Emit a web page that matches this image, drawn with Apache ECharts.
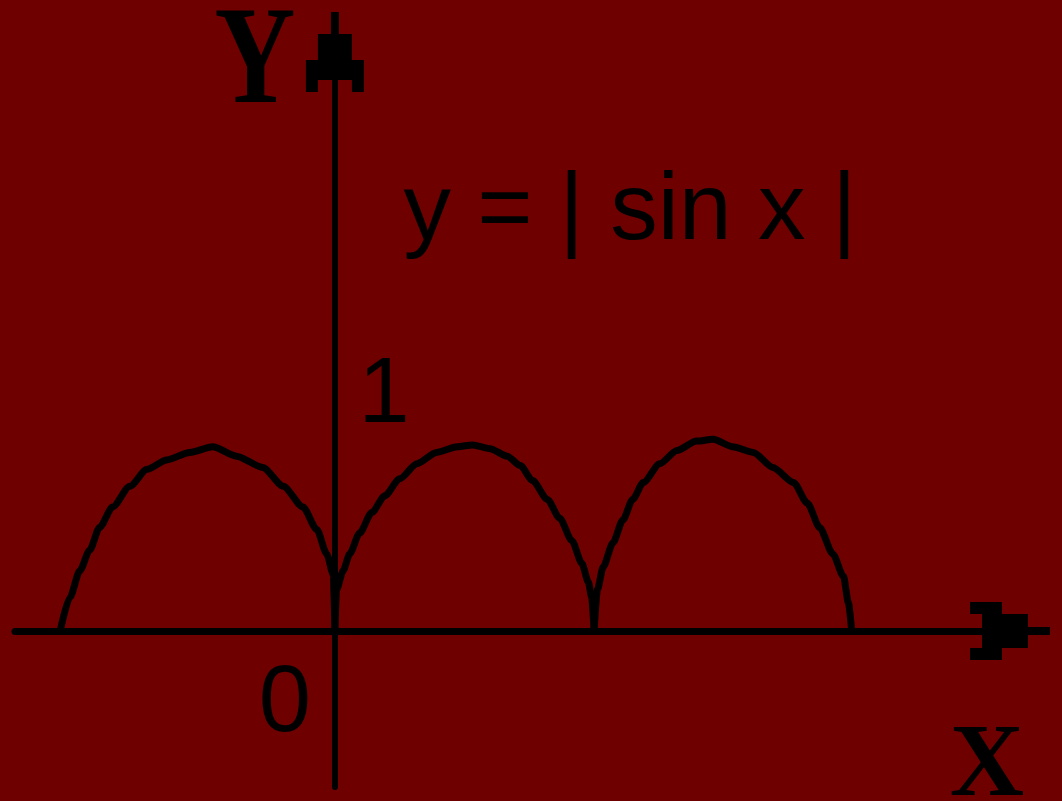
<!DOCTYPE html>
<html>
<head>
<meta charset="utf-8">
<title>y = | sin x |</title>
<script src="https://cdn.jsdelivr.net/npm/echarts@6/dist/echarts.min.js"></script>
<style>
  html, body { margin: 0; padding: 0; background: #6e0000; }
  #chart { width: 1062px; height: 801px; }
</style>
</head>
<body>
<div id="chart"></div>
<script>
// points (x in radians, y relative to the arch top)
var leftArchX = [-3.35, -3.23, -3.11, -2.99, -2.87, -2.71, -2.50, -2.29, -2.05, -1.77, -1.49, -1.20, -0.88, -0.63, -0.39, -0.22, -0.10, -0.02, 0]
var leftArchY = [0, 0.18, 0.32, 0.43, 0.55, 0.66, 0.77, 0.86, 0.91, 0.95, 0.98, 0.93, 0.87, 0.77, 0.66, 0.54, 0.41, 0.30, 0]

var midArchX = [0, 0.02, 0.10, 0.18, 0.30, 0.45, 0.61, 0.79, 1.00, 1.24, 1.49, 1.68, 1.89, 2.10, 2.26, 2.41, 2.59, 2.74, 2.89, 3.01, 3.09, 3.13, 3.16]
var midArchY = [0, 0.22, 0.32, 0.41, 0.52, 0.63, 0.72, 0.81, 0.89, 0.95, 0.98, 0.99, 0.97, 0.93, 0.88, 0.80, 0.70, 0.60, 0.48, 0.36, 0.26, 0.18, 0]

var rightArchX = [3.16, 3.20, 3.27, 3.39, 3.51, 3.63, 3.76, 3.96, 4.17, 4.41, 4.61, 4.85, 5.10, 5.34, 5.59, 5.76, 5.91, 6.07, 6.20, 6.26, 6.30]
var rightArchY = [0, 0.22, 0.34, 0.47, 0.59, 0.70, 0.79, 0.89, 0.96, 1.01, 1.02, 0.98, 0.95, 0.87, 0.79, 0.68, 0.55, 0.41, 0.29, 0.15, 0]

var tickLabels = ['0', '1']
var axisNames = ['X', 'Y']
var formula = 'y = | sin x |'

// blocky arrow head, pointing up
var arrowPath = 'path://M25 0L33 0L33 22L46 22L46 48L58 48L58 80L46 80L46 68L12 68L12 80L0 80L0 48L12 48L12 22L25 22Z'

function pairs (xs, ys) {
  return xs.map(function (x, i) { return [x, ys[i]] })
}

function arch (xs, ys) {
  return {
    type: 'line',
    data: pairs(xs, ys),
    symbol: 'none',
    smooth: 0.25,
    smoothMonotone: 'x',
    lineStyle: { color: '#000', width: 7 },
    silent: true
  }
}

var chart = echarts.init(document.getElementById('chart'))

var options = {
  backgroundColor: '#6e0000',
  animation: false,
  grid: { left: 15, right: 52, top: 52, bottom: 14 },
  xAxis: {
    type: 'value',
    min: -3.9,
    max: 8.23,
    splitLine: { show: false },
    axisTick: { show: false },
    axisLabel: { show: false },
    axisLine: {
      onZero: true,
      symbol: ['none', arrowPath],
      symbolSize: [58, 80],
      lineStyle: { color: '#000', width: 7 }
    }
  },
  yAxis: {
    type: 'value',
    min: -0.83,
    max: 3.08,
    splitLine: { show: false },
    axisTick: { show: false },
    axisLabel: { show: false },
    axisLine: {
      onZero: true,
      symbol: ['none', arrowPath],
      symbolSize: [58, 80],
      lineStyle: { color: '#000', width: 6 }
    }
  },
  graphic: [
    {
      type: 'text', x: 255, y: 66, scaleX: 0.8,
      style: { text: axisNames[1], font: 'bold 140px "Liberation Serif"', fill: '#000', align: 'center', verticalAlign: 'middle' }
    },
    {
      type: 'text', x: 987, y: 768,
      style: { text: axisNames[0], font: 'bold 103px "Liberation Serif"', fill: '#000', align: 'center', verticalAlign: 'middle' }
    },
    {
      type: 'text', x: 285, y: 705,
      style: { text: tickLabels[0], font: '94px "Liberation Sans"', fill: '#000', align: 'center', verticalAlign: 'middle' }
    },
    {
      type: 'text', x: 384, y: 397,
      style: { text: tickLabels[1], font: '92px "Liberation Sans"', fill: '#000', align: 'center', verticalAlign: 'middle' }
    },
    {
      type: 'text', x: 630, y: 213,
      style: { text: formula, font: '95px "Liberation Sans"', fill: '#000', align: 'center', verticalAlign: 'middle' }
    }
  ],
  series: [
    arch(leftArchX, leftArchY),
    arch(midArchX, midArchY),
    arch(rightArchX, rightArchY)
  ]
}

chart.setOption(options)
</script>
</body>
</html>
